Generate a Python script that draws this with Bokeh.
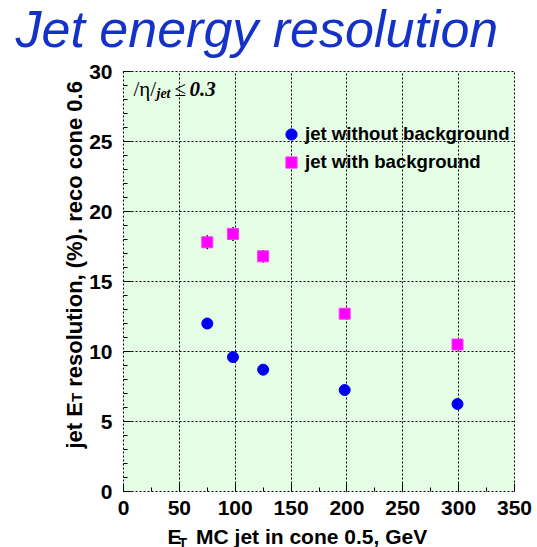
import math
from bokeh.plotting import figure
from bokeh.models import (ColumnDataSource, Label, Legend, LegendItem,
                          SingleIntervalTicker, Range1d)
from bokeh.embed import file_html
from bokeh.resources import INLINE

# E_T of the MC jet (GeV) and the jet E_T resolution (%)
et_mc = [75, 98, 125, 198, 299]
res_no_bkg = [12.0, 9.6, 8.7, 7.25, 6.25]
res_bkg = [17.8, 18.4, 16.8, 12.7, 10.5]
err_bkg = [0.5, 0.5, 0.45, 0.3, 0.3]

x_ticks_step = 50
y_ticks_step = 5

SANS = "Liberation Sans"
SERIF = "Liberation Serif"
GAP = "\u2005\u2006"  # room left for the subscript T

src_no = ColumnDataSource(dict(x=et_mc, y=res_no_bkg))
src_bk = ColumnDataSource(dict(
    x=et_mc, y=res_bkg,
    lo=[v - e for v, e in zip(res_bkg, err_bkg)],
    hi=[v + e for v, e in zip(res_bkg, err_bkg)],
))

p = figure(width=537, height=547, output_backend="svg", toolbar_location=None,
           x_range=Range1d(0, 350), y_range=Range1d(0, 30),
           min_border_left=123, min_border_right=23,
           min_border_top=71, min_border_bottom=56)

p.background_fill_color = "#e5fce5"
p.border_fill_color = "white"
p.outline_line_color = "black"
p.outline_line_dash = "2 2"
p.outline_line_width = 1

# axes: inward ticks, bold labels
p.xaxis.ticker = SingleIntervalTicker(interval=x_ticks_step, num_minor_ticks=2)
p.yaxis.ticker = SingleIntervalTicker(interval=y_ticks_step, num_minor_ticks=5)
for ax in (p.xaxis[0], p.yaxis[0]):
    ax.axis_line_color = None
    ax.major_tick_in = 8
    ax.major_tick_out = 0
    ax.minor_tick_in = 4
    ax.minor_tick_out = 0
    ax.major_tick_line_color = "black"
    ax.minor_tick_line_color = "black"
    ax.major_label_text_font = SANS
    ax.major_label_text_font_style = "bold"
    ax.major_label_text_font_size = "21px"
    ax.major_label_text_color = "black"
p.xaxis.major_label_standoff = 9
p.yaxis.major_label_standoff = 11

for g in (p.xgrid[0], p.ygrid[0]):
    g.grid_line_color = "black"
    g.grid_line_dash = "2 2"
    g.grid_line_width = 1

# error bars, then markers
p.segment(x0="x", y0="lo", x1="x", y1="hi", source=src_bk,
          line_color="black", line_width=1.5)
r_no = p.scatter("x", "y", source=src_no, marker="circle", size=11,
                 fill_color="#0000f0", line_color="#0000f0")
r_bk = p.scatter("x", "y", source=src_bk, marker="square", size=11,
                 fill_color="#ff00ff", line_color="#ff33ff")

legend = Legend(items=[LegendItem(label="jet without background", renderers=[r_no]),
                       LegendItem(label="jet with background", renderers=[r_bk])],
                location=(154, 315), orientation="vertical",
                background_fill_alpha=0, border_line_color=None,
                padding=0, margin=0, spacing=0,
                glyph_width=28, glyph_height=28, label_height=28,
                label_standoff=-6,
                label_text_font=SANS, label_text_font_style="bold",
                label_text_font_size="18.6px", label_text_color="black")
p.add_layout(legend)


def lab(text, x, y, size, font=SANS, style="bold", color="black", angle=0,
        place=None):
    label = Label(text=text, x=x, y=y, x_units="screen", y_units="screen",
                  text_font=font, text_font_style=style,
                  text_font_size=f"{size}px", text_color=color,
                  text_align="left", text_baseline="alphabetic", angle=angle)
    if place is None:
        p.add_layout(label)
    else:
        p.add_layout(label, place)


# title (panel above the frame)
lab("Jet energy resolution", -108, 43, 52, style="italic", color="#1432c8",
    place="above")

# pseudorapidity cut, inside the frame
lab("/\u03b7/", 10, 403, 21, font=SERIF, style="normal")
lab("jet", 33, 398, 14, font=SERIF, style="bold italic")
lab("\u2264", 51, 403, 21, font=SERIF, style="normal")
lab("0.3", 66, 403, 21, font=SERIF, style="bold italic")

# x axis title, subscript T kept in the narrow right-hand panel
lab("E" + GAP + " MC jet in cone 0.5, GeV", 44, 4.5, 21, place="below")
lab("T", -336, -51, 14, place="right")

# y axis title (rotated), subscript T in its own panel further out
up = math.pi / 2
lab("jet E" + GAP + " resolution, (%). reco cone 0.6", 13, 43, 22,
    angle=up, place="left")
lab("T", 32, 89.5, 15, angle=up, place="left")

open("out.html", "w").write(file_html(p, INLINE))
